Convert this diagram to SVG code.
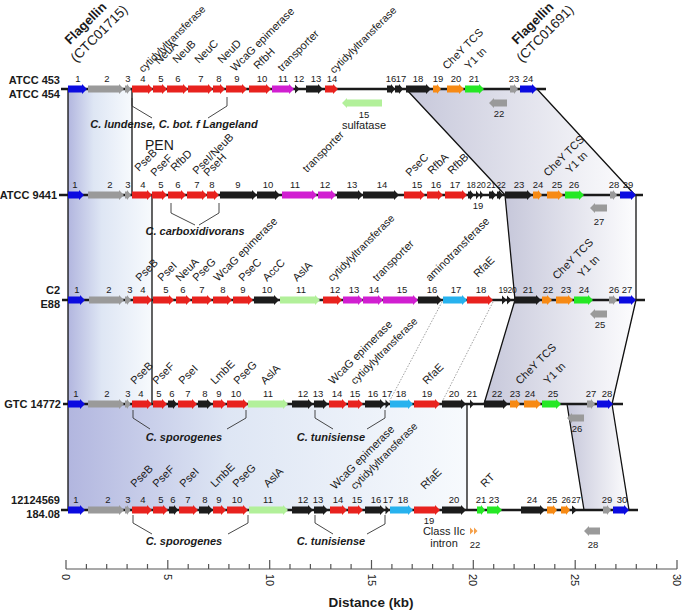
<svg xmlns="http://www.w3.org/2000/svg" width="683" height="611" viewBox="0 0 683 611">
<defs>
<style>
.B{fill:#0b0be0}.G{fill:#9a9a9a}.R{fill:#e8221e}.K{fill:#1c1c1c}.M{fill:#d11fd1}.O{fill:#f78a14}.GR{fill:#25e825}.LG{fill:#b2f09a}.C{fill:#27b2ee}.OC{fill:#f5a04a}
text{font-family:"Liberation Sans",Arial,sans-serif;fill:#1a1a1a}
.n{font-size:9.5px;text-anchor:middle}
.n2{font-size:8.5px;text-anchor:middle;letter-spacing:-0.3px}
.l{font-size:11px}
.l .cy{font-size:10.5px}
.f{font-size:13px;font-weight:bold}
.c{font-size:13.5px}
.s{font-size:11px;text-anchor:middle}
.sp{font-size:11px;font-weight:bold;font-style:italic;text-anchor:middle}
.rl{font-size:11px;font-weight:bold;text-anchor:end}
.bb{stroke:#1a1a1a;stroke-width:2.5}
.bd{stroke:#111;stroke-width:1.3;fill:none}
.br{stroke:#333;stroke-width:0.9;fill:none}
.dt{stroke:#777;stroke-width:0.7;stroke-dasharray:1.5 1.5;fill:none}
.ax{stroke:#555;stroke-width:1.2;fill:none}
</style>
<linearGradient id="gb" x1="0" y1="0" x2="1" y2="0"><stop offset="0" stop-color="#b2b6df"/><stop offset="0.4" stop-color="#dee6f4"/><stop offset="1" stop-color="#f7fafd"/></linearGradient>
<linearGradient id="gg" x1="0" y1="0" x2="1" y2="0"><stop offset="0" stop-color="#c6c7da"/><stop offset="1" stop-color="#fdfdfe"/></linearGradient>
</defs>
<rect width="683" height="611" fill="#fff"/>
<g id="bands">
<rect x="68" y="89" width="64" height="106" fill="url(#gb)"/>
<rect x="68" y="195" width="84" height="209" fill="url(#gb)"/>
<rect x="68" y="404" width="399" height="106" fill="url(#gb)"/>
<polygon points="406,89 537,89 635,195 505,195" fill="url(#gg)"/>
<polygon points="505,195 636,195 636,300 515,300" fill="url(#gg)"/>
<polygon points="515,300 636,300 612,404 484,404" fill="url(#gg)"/>
<polygon points="567,404 612,404 629,510 584,510" fill="url(#gg)"/>
</g>
<g id="connectors">
<path class="bd" d="M68,89V510M132,89V195M152,195V404M467,404V510"/>
<path class="bd" d="M406,89L505,195M537,89L635,195M505,195L515,300M636,195V300M515,300L484,404M636,300L612,404M567,404L584,510M612,404L629,510"/>
<path class="dt" d="M442,302L388,404M493,302L441,404"/>
<path class="br" d="M132,98V106L152,118M227,97V106L208,118"/>
<path class="br" d="M171,203V213L195,225M219,203V213L199,225"/>
<path class="br" d="M133,410V418L150,429M246,410V418L227,429M315,410V418L333,429M385,410V418L367,429"/>
<path class="br" d="M133,515V523L152,534M248,515V523L228,534M315,515V523L333,534M385,515V524L367,534"/>
</g>
<g id="annotations">
<text class="f" transform="translate(70,45) rotate(-45)">Flagellin</text>
<text class="c" transform="translate(76,63) rotate(-45)">(CTC01715)</text>
<text class="f" transform="translate(517,45) rotate(-45)">Flagellin</text>
<text class="c" transform="translate(522,63) rotate(-45)">(CTC01691)</text>
<text x="145" y="150" style="font-size:14px">PEN</text>
<text class="sp" x="174" y="128">C. lundense, C. bot. f Langeland</text>
<text class="sp" x="195" y="235">C. carboxidivorans</text>
<text class="sp" x="184" y="441">C. sporogenes</text>
<text class="sp" x="331" y="441">C. tunisiense</text>
<text class="sp" x="184" y="545">C. sporogenes</text>
<text class="sp" x="331" y="545">C. tunisiense</text>
<text class="rl" x="60" y="84">ATCC 453</text>
<text class="rl" x="60" y="98">ATCC 454</text>
<text class="rl" x="57" y="199">ATCC 9441</text>
<text class="rl" x="60" y="294">C2</text>
<text class="rl" x="60" y="308">E88</text>
<text class="rl" x="61" y="408">GTC 14772</text>
<text class="rl" x="60" y="504">12124569</text>
<text class="rl" x="60" y="518">184.08</text>
</g>
<g id="row1" transform="translate(0,89)">
<line class="bb" x1="61" y1="0" x2="546" y2="0"/>
<g class="l">
<text class="cy" transform="translate(143,-16) rotate(-45)">cytidylyltransferase</text>
<text transform="translate(159,-24) rotate(-45)">NeuA</text>
<text transform="translate(177,-25) rotate(-45)">NeuB</text>
<text transform="translate(199,-25) rotate(-45)">NeuC</text>
<text transform="translate(222,-25) rotate(-45)">NeuD</text>
<text transform="translate(235,-17) rotate(-45)">WcaG epimerase</text>
<text transform="translate(258,-19) rotate(-45)">RfbH</text>
<text transform="translate(282,-17) rotate(-45)">transporter</text>
<text class="cy" transform="translate(334,-15) rotate(-45)">cytidylyltransferase</text>
<text transform="translate(447,-19) rotate(-45)">CheY TCS</text>
<text transform="translate(469,-19) rotate(-45)">Y1 tn</text>
</g>
<g id="r1-g1"><path class="B" d="M68,-3.5H82V-5L87,0L82,5V3.5H68Z"/><text class="n" x="78" y="-7.5">1</text></g>
<g id="r1-g2"><path class="G" d="M88,-3.5H119V-5L124,0L119,5V3.5H88Z"/><text class="n" x="107" y="-7.5">2</text></g>
<g id="r1-g3"><path class="G" d="M125,-3.5H127V-5L131,0L127,5V3.5H125Z"/><text class="n" x="128" y="-7.5">3</text></g>
<g id="r1-g4"><path class="R" d="M132,-3.5H148V-5L153,0L148,5V3.5H132Z"/><text class="n" x="143" y="-7.5">4</text></g>
<g id="r1-g5"><path class="R" d="M153,-3.5H162V-5L167,0L162,5V3.5H153Z"/><text class="n" x="161" y="-7.5">5</text></g>
<g id="r1-g6"><path class="R" d="M167,-3.5H183V-5L188,0L183,5V3.5H167Z"/><text class="n" x="178" y="-7.5">6</text></g>
<g id="r1-g7"><path class="R" d="M188,-3.5H208V-5L213,0L208,5V3.5H188Z"/><text class="n" x="201" y="-7.5">7</text></g>
<g id="r1-g8"><path class="R" d="M213,-3.5H220V-5L225,0L220,5V3.5H213Z"/><text class="n" x="219" y="-7.5">8</text></g>
<g id="r1-g9"><path class="R" d="M226,-3.5H242V-5L247,0L242,5V3.5H226Z"/><text class="n" x="237" y="-7.5">9</text></g>
<g id="r1-g10"><path class="R" d="M249,-3.5H266V-5L271,0L266,5V3.5H249Z"/><text class="n" x="262" y="-7.5">10</text></g>
<g id="r1-g11"><path class="M" d="M272,-3.5H289V-5L294,0L289,5V3.5H272Z"/><text class="n" x="283" y="-7.5">11</text></g>
<g id="r1-g12"><path class="K" d="M295,-4.5L299.5,0L295,4.5Z"/><text class="n" x="299" y="-7.5">12</text></g>
<g id="r1-g13"><path class="K" d="M306,-3.5H318V-5L323,0L318,5V3.5H306Z"/><text class="n" x="316" y="-7.5">13</text></g>
<g id="r1-g14"><path class="R" d="M325,-3.5H333V-5L338,0L333,5V3.5H325Z"/><text class="n" x="332" y="-7.5">14</text></g>
<g id="r1-g15" transform="translate(0,14)"><path class="LG" d="M382,-3.5H347V-5L342,0L347,5V3.5H382Z"/><text class="n" x="364" y="15">15</text><text class="s" x="364" y="26">sulfatase</text></g>
<g id="r1-g16"><path class="K" d="M387,-3.5H391V-5L395,0L391,5V3.5H387Z"/><text class="n" x="391" y="-7.5">16</text></g>
<g id="r1-g17"><path class="K" d="M395,-3.5H399V-5L403,0L399,5V3.5H395Z"/><text class="n" x="401" y="-7.5">17</text></g>
<g id="r1-g18"><path class="K" d="M406,-3.5H426V-5L431,0L426,5V3.5H406Z"/><text class="n" x="418" y="-7.5">18</text></g>
<g id="r1-g19"><path class="O" d="M433,-3.5H437V-5L441,0L437,5V3.5H433Z"/><text class="n" x="438" y="-7.5">19</text></g>
<g id="r1-g20"><path class="O" d="M447,-3.5H459V-5L464,0L459,5V3.5H447Z"/><text class="n" x="456" y="-7.5">20</text></g>
<g id="r1-g21"><path class="GR" d="M465,-3.5H479V-5L484,0L479,5V3.5H465Z"/><text class="n" x="474" y="-7.5">21</text></g>
<g id="r1-g22" transform="translate(0,14)"><path class="G" d="M507,-3.5H494V-5L489,0L494,5V3.5H507Z"/><text class="n" x="499" y="14">22</text></g>
<g id="r1-g23"><path class="G" d="M510,-3.5H514V-5L518,0L514,5V3.5H510Z"/><text class="n" x="514" y="-7.5">23</text></g>
<g id="r1-g24"><path class="B" d="M520,-3.5H532V-5L537,0L532,5V3.5H520Z"/><text class="n" x="528" y="-7.5">24</text></g>
</g>
<g id="row2" transform="translate(0,195)">
<line class="bb" x1="59" y1="0" x2="643" y2="0"/>
<g class="l">
<text transform="translate(139,-23) rotate(-45)">PseB</text>
<text transform="translate(155,-18) rotate(-45)">PseF</text>
<text transform="translate(175,-23) rotate(-45)">RfbD</text>
<text transform="translate(197,-20) rotate(-45)">PseI/NeuB</text>
<text transform="translate(208,-18) rotate(-45)">PseH</text>
<text transform="translate(307,-22) rotate(-45)">transporter</text>
<text transform="translate(410,-18) rotate(-45)">PseC</text>
<text transform="translate(432,-20) rotate(-45)">RfbA</text>
<text transform="translate(452,-20) rotate(-45)">RfbB</text>
<text transform="translate(548,-18) rotate(-45)">CheY TCS</text>
<text transform="translate(570,-21) rotate(-45)">Y1 tn</text>
</g>
<g id="r2-g1"><path class="B" d="M68,-3.5H79V-5L84,0L79,5V3.5H68Z"/><text class="n" x="75" y="-7.5">1</text></g>
<g id="r2-g2"><path class="G" d="M88,-3.5H119V-5L124,0L119,5V3.5H88Z"/><text class="n" x="110" y="-7.5">2</text></g>
<g id="r2-g3"><path class="G" d="M125,-3.5H127V-5L131,0L127,5V3.5H125Z"/><text class="n" x="128" y="-7.5">3</text></g>
<g id="r2-g4"><path class="R" d="M132,-3.5H147V-5L152,0L147,5V3.5H132Z"/><text class="n" x="143" y="-7.5">4</text></g>
<g id="r2-g5"><path class="R" d="M152,-3.5H162V-5L167,0L162,5V3.5H152Z"/><text class="n" x="161" y="-7.5">5</text></g>
<g id="r2-g6"><path class="R" d="M168,-3.5H181V-5L186,0L181,5V3.5H168Z"/><text class="n" x="178" y="-7.5">6</text></g>
<g id="r2-g7"><path class="R" d="M187,-3.5H202V-5L207,0L202,5V3.5H187Z"/><text class="n" x="197" y="-7.5">7</text></g>
<g id="r2-g8"><path class="R" d="M207,-3.5H214V-5L219,0L214,5V3.5H207Z"/><text class="n" x="212" y="-7.5">8</text></g>
<g id="r2-g9"><path class="K" d="M220,-3.5H252V-5L257,0L252,5V3.5H220Z"/><text class="n" x="238" y="-7.5">9</text></g>
<g id="r2-g10"><path class="K" d="M257,-3.5H275V-5L280,0L275,5V3.5H257Z"/><text class="n" x="268" y="-7.5">10</text></g>
<g id="r2-g11"><path class="M" d="M282,-3.5H312V-5L317,0L312,5V3.5H282Z"/><text class="n" x="295" y="-7.5">11</text></g>
<g id="r2-g12"><path class="M" d="M318,-3.5H331V-5L336,0L331,5V3.5H318Z"/><text class="n" x="325" y="-7.5">12</text></g>
<g id="r2-g13"><path class="K" d="M337,-3.5H358V-5L363,0L358,5V3.5H337Z"/><text class="n" x="352" y="-7.5">13</text></g>
<g id="r2-g14"><path class="K" d="M363,-3.5H394V-5L399,0L394,5V3.5H363Z"/><text class="n" x="382" y="-7.5">14</text></g>
<g id="r2-g15"><path class="R" d="M404,-3.5H420V-5L425,0L420,5V3.5H404Z"/><text class="n" x="417" y="-7.5">15</text></g>
<g id="r2-g16"><path class="R" d="M427,-3.5H438V-5L443,0L438,5V3.5H427Z"/><text class="n" x="436" y="-7.5">16</text></g>
<g id="r2-g17"><path class="R" d="M445,-3.5H462V-5L467,0L462,5V3.5H445Z"/><text class="n" x="455" y="-7.5">17</text></g>
<g id="r2-g18"><path class="K" d="M468,-3.5H470V-5L474,0L470,5V3.5H468Z"/><text class="n2" x="471" y="-7.5">18</text></g>
<g id="r2-g19"><path class="K" d="M476,-4.5L479.5,0L476,4.5Z"/><text class="n" x="478" y="14">19</text></g>
<g id="r2-g20"><path class="K" d="M480,-4.5L483.5,0L480,4.5Z"/><text class="n2" x="481" y="-7.5">20</text></g>
<g id="r2-g21"><path class="K" d="M489,-3.5H492V-5L496,0L492,5V3.5H489Z"/><text class="n2" x="491" y="-7.5">21</text></g>
<g id="r2-g22"><path class="K" d="M497,-3.5H499V-5L503,0L499,5V3.5H497Z"/><text class="n2" x="501" y="-7.5">22</text></g>
<g id="r2-g23"><path class="K" d="M505,-3.5H527V-5L532,0L527,5V3.5H505Z"/><text class="n" x="519" y="-7.5">23</text></g>
<g id="r2-g24"><path class="O" d="M533,-3.5H538V-5L542,0L538,5V3.5H533Z"/><text class="n" x="538" y="-7.5">24</text></g>
<g id="r2-g25"><path class="O" d="M547,-3.5H558V-5L563,0L558,5V3.5H547Z"/><text class="n" x="557" y="-7.5">25</text></g>
<g id="r2-g26"><path class="GR" d="M565,-3.5H579V-5L584,0L579,5V3.5H565Z"/><text class="n" x="574" y="-7.5">26</text></g>
<g id="r2-g27" transform="translate(0,13)"><path class="G" d="M607,-3.5H595V-5L590,0L595,5V3.5H607Z"/><text class="n" x="599" y="17">27</text></g>
<g id="r2-g28"><path class="G" d="M610,-3.5H613V-5L617,0L613,5V3.5H610Z"/><text class="n" x="614" y="-7.5">28</text></g>
<g id="r2-g29"><path class="B" d="M620,-3.5H631V-5L636,0L631,5V3.5H620Z"/><text class="n" x="628" y="-7.5">29</text></g>
</g>
<g id="row3" transform="translate(0,300)">
<line class="bb" x1="62" y1="0" x2="645" y2="0"/>
<g class="l">
<text transform="translate(140,-18) rotate(-45)">PseB</text>
<text transform="translate(162,-18) rotate(-45)">PseI</text>
<text transform="translate(180,-18) rotate(-45)">NeuA</text>
<text transform="translate(197,-18) rotate(-45)">PseG</text>
<text transform="translate(218,-18) rotate(-45)">WcaG epimerase</text>
<text transform="translate(243,-18) rotate(-45)">PseC</text>
<text transform="translate(267,-18) rotate(-45)">AccC</text>
<text transform="translate(297,-18) rotate(-45)">AslA</text>
<text class="cy" transform="translate(332,-18) rotate(-45)">cytidylyltransferase</text>
<text transform="translate(377,-18) rotate(-45)">transporter</text>
<text transform="translate(430,-18) rotate(-45)">aminotransferase</text>
<text transform="translate(478,-22) rotate(-45)">RfaE</text>
<text transform="translate(557,-20) rotate(-45)">CheY TCS</text>
<text transform="translate(582,-22) rotate(-45)">Y1 tn</text>
</g>
<g id="r3-g1"><path class="B" d="M68,-3.5H80V-5L85,0L80,5V3.5H68Z"/><text class="n" x="77" y="-7.5">1</text></g>
<g id="r3-g2"><path class="G" d="M89,-3.5H119V-5L124,0L119,5V3.5H89Z"/><text class="n" x="109" y="-7.5">2</text></g>
<g id="r3-g3"><path class="G" d="M125,-3.5H127V-5L131,0L127,5V3.5H125Z"/><text class="n" x="130" y="-7.5">3</text></g>
<g id="r3-g4"><path class="R" d="M133,-3.5H147V-5L152,0L147,5V3.5H133Z"/><text class="n" x="143" y="-7.5">4</text></g>
<g id="r3-g5"><path class="R" d="M153,-3.5H169V-5L174,0L169,5V3.5H153Z"/><text class="n" x="166" y="-7.5">5</text></g>
<g id="r3-g6"><path class="R" d="M176,-3.5H186V-5L191,0L186,5V3.5H176Z"/><text class="n" x="183" y="-7.5">6</text></g>
<g id="r3-g7"><path class="R" d="M192,-3.5H207V-5L212,0L207,5V3.5H192Z"/><text class="n" x="202" y="-7.5">7</text></g>
<g id="r3-g8"><path class="R" d="M213,-3.5H227V-5L232,0L227,5V3.5H213Z"/><text class="n" x="223" y="-7.5">8</text></g>
<g id="r3-g9"><path class="R" d="M233,-3.5H248V-5L253,0L248,5V3.5H233Z"/><text class="n" x="243" y="-7.5">9</text></g>
<g id="r3-g10"><path class="K" d="M254,-3.5H274V-5L279,0L274,5V3.5H254Z"/><text class="n" x="267" y="-7.5">10</text></g>
<g id="r3-g11"><path class="LG" d="M280,-3.5H315V-5L320,0L315,5V3.5H280Z"/><text class="n" x="301" y="-7.5">11</text></g>
<g id="r3-g12"><path class="R" d="M323,-3.5H337V-5L342,0L337,5V3.5H323Z"/><text class="n" x="335" y="-7.5">12</text></g>
<g id="r3-g13"><path class="M" d="M343,-3.5H358V-5L363,0L358,5V3.5H343Z"/><text class="n" x="354" y="-7.5">13</text></g>
<g id="r3-g14"><path class="M" d="M363,-3.5H378V-5L383,0L378,5V3.5H363Z"/><text class="n" x="374" y="-7.5">14</text></g>
<g id="r3-g15"><path class="M" d="M383,-3.5H413V-5L418,0L413,5V3.5H383Z"/><text class="n" x="402" y="-7.5">15</text></g>
<g id="r3-g16"><path class="K" d="M418,-3.5H437V-5L442,0L437,5V3.5H418Z"/><text class="n" x="432" y="-7.5">16</text></g>
<g id="r3-g17"><path class="C" d="M443,-3.5H462V-5L467,0L462,5V3.5H443Z"/><text class="n" x="456" y="-7.5">17</text></g>
<g id="r3-g18"><path class="R" d="M467,-3.5H488V-5L493,0L488,5V3.5H467Z"/><text class="n" x="481" y="-7.5">18</text></g>
<g id="r3-g19"><path class="K" d="M502,-4.5L506.5,0L502,4.5Z"/><text class="n2" x="503" y="-7.5">19</text></g>
<g id="r3-g20"><path class="K" d="M507,-4.5L511.5,0L507,4.5Z"/><text class="n2" x="512" y="-7.5">20</text></g>
<g id="r3-g21"><path class="K" d="M514,-3.5H536V-5L541,0L536,5V3.5H514Z"/><text class="n" x="528" y="-7.5">21</text></g>
<g id="r3-g22"><path class="O" d="M542,-3.5H547V-5L552,0L547,5V3.5H542Z"/><text class="n" x="548" y="-7.5">22</text></g>
<g id="r3-g23"><path class="O" d="M556,-3.5H568V-5L573,0L568,5V3.5H556Z"/><text class="n" x="566" y="-7.5">23</text></g>
<g id="r3-g24"><path class="GR" d="M574,-3.5H588V-5L593,0L588,5V3.5H574Z"/><text class="n" x="584" y="-7.5">24</text></g>
<g id="r3-g25" transform="translate(0,14)"><path class="G" d="M607,-3.5H595V-5L590,0L595,5V3.5H607Z"/><text class="n" x="600" y="14">25</text></g>
<g id="r3-g26"><path class="G" d="M609,-3.5H613V-5L617,0L613,5V3.5H609Z"/><text class="n" x="614" y="-7.5">26</text></g>
<g id="r3-g27"><path class="B" d="M619,-3.5H631V-5L636,0L631,5V3.5H619Z"/><text class="n" x="627" y="-7.5">27</text></g>
</g>
<g id="row4" transform="translate(0,404)">
<line class="bb" x1="63" y1="0" x2="623" y2="0"/>
<g class="l">
<text transform="translate(135,-19) rotate(-45)">PseB</text>
<text transform="translate(157,-19) rotate(-45)">PseF</text>
<text transform="translate(183,-19) rotate(-45)">PseI</text>
<text transform="translate(215,-19) rotate(-45)">LmbE</text>
<text transform="translate(238,-19) rotate(-45)">PseG</text>
<text transform="translate(265,-19) rotate(-45)">AslA</text>
<text transform="translate(333,-19) rotate(-45)">WcaG epimerase</text>
<text class="cy" transform="translate(355,-19) rotate(-45)">cytidylyltransferase</text>
<text transform="translate(427,-19) rotate(-45)">RfaE</text>
<text transform="translate(520,-19) rotate(-45)">CheY TCS</text>
<text transform="translate(548,-19) rotate(-45)">Y1 tn</text>
</g>
<g id="r4-g1"><path class="B" d="M68,-3.5H80V-5L85,0L80,5V3.5H68Z"/><text class="n" x="76" y="-7.5">1</text></g>
<g id="r4-g2"><path class="G" d="M88,-3.5H119V-5L124,0L119,5V3.5H88Z"/><text class="n" x="107" y="-7.5">2</text></g>
<g id="r4-g3"><path class="G" d="M125,-3.5H127V-5L130.5,0L127,5V3.5H125Z"/><text class="n" x="128" y="-7.5">3</text></g>
<g id="r4-g4"><path class="R" d="M132,-3.5H147V-5L152,0L147,5V3.5H132Z"/><text class="n" x="141" y="-7.5">4</text></g>
<g id="r4-g5"><path class="R" d="M153,-3.5H162V-5L167,0L162,5V3.5H153Z"/><text class="n" x="159" y="-7.5">5</text></g>
<g id="r4-g6"><path class="K" d="M168,-3.5H173V-5L177,0L173,5V3.5H168Z"/><text class="n" x="172" y="-7.5">6</text></g>
<g id="r4-g7"><path class="R" d="M178,-3.5H192V-5L197,0L192,5V3.5H178Z"/><text class="n" x="188" y="-7.5">7</text></g>
<g id="r4-g8"><path class="K" d="M198,-3.5H207V-5L212,0L207,5V3.5H198Z"/><text class="n" x="205" y="-7.5">8</text></g>
<g id="r4-g9"><path class="R" d="M213,-3.5H221V-5L226,0L221,5V3.5H213Z"/><text class="n" x="219" y="-7.5">9</text></g>
<g id="r4-g10"><path class="R" d="M227,-3.5H243V-5L248,0L243,5V3.5H227Z"/><text class="n" x="236" y="-7.5">10</text></g>
<g id="r4-g11"><path class="LG" d="M248,-3.5H283V-5L288,0L283,5V3.5H248Z"/><text class="n" x="268" y="-7.5">11</text></g>
<g id="r4-g12"><path class="K" d="M292,-3.5H308V-5L313,0L308,5V3.5H292Z"/><text class="n" x="303" y="-7.5">12</text></g>
<g id="r4-g13"><path class="K" d="M314,-3.5H323V-5L328,0L323,5V3.5H314Z"/><text class="n" x="318" y="-7.5">13</text></g>
<g id="r4-g14"><path class="R" d="M329,-3.5H342V-5L347,0L342,5V3.5H329Z"/><text class="n" x="337" y="-7.5">14</text></g>
<g id="r4-g15"><path class="R" d="M348,-3.5H358V-5L363,0L358,5V3.5H348Z"/><text class="n" x="355" y="-7.5">15</text></g>
<g id="r4-g16"><path class="K" d="M365,-3.5H380V-5L385,0L380,5V3.5H365Z"/><text class="n" x="373" y="-7.5">16</text></g>
<g id="r4-g17"><path class="K" d="M385.5,-4.5L389.5,0L385.5,4.5Z"/><text class="n" x="387" y="-7.5">17</text></g>
<g id="r4-g18"><path class="C" d="M390,-3.5H408V-5L413,0L408,5V3.5H390Z"/><text class="n" x="401" y="-7.5">18</text></g>
<g id="r4-g19"><path class="R" d="M414,-3.5H435V-5L440,0L435,5V3.5H414Z"/><text class="n" x="427" y="-7.5">19</text></g>
<g id="r4-g20"><path class="K" d="M442,-3.5H461V-5L466,0L461,5V3.5H442Z"/><text class="n" x="454" y="-7.5">20</text></g>
<g id="r4-g21"><path class="K" d="M470,-4.5L474,0L470,4.5Z"/><text class="n" x="472" y="-7.5">21</text></g>
<g id="r4-g22"><path class="K" d="M484,-3.5H503V-5L508,0L503,5V3.5H484Z"/><text class="n" x="497" y="-7.5">22</text></g>
<g id="r4-g23"><path class="O" d="M510,-3.5H516V-5L520,0L516,5V3.5H510Z"/><text class="n" x="515" y="-7.5">23</text></g>
<g id="r4-g24"><path class="O" d="M524,-3.5H536V-5L541,0L536,5V3.5H524Z"/><text class="n" x="530" y="-7.5">24</text></g>
<g id="r4-g25"><path class="GR" d="M542,-3.5H556V-5L561,0L556,5V3.5H542Z"/><text class="n" x="553" y="-7.5">25</text></g>
<g id="r4-g26" transform="translate(0,14)"><path class="G" d="M584,-3.5H572V-5L567,0L572,5V3.5H584Z"/><text class="n" x="577" y="14">26</text></g>
<g id="r4-g27"><path class="G" d="M587,-3.5H591V-5L595,0L591,5V3.5H587Z"/><text class="n" x="591" y="-7.5">27</text></g>
<g id="r4-g28"><path class="B" d="M597,-3.5H608V-5L613,0L608,5V3.5H597Z"/><text class="n" x="607" y="-7.5">28</text></g>
</g>
<g id="row5" transform="translate(0,510)">
<line class="bb" x1="61" y1="0" x2="638" y2="0"/>
<g class="l">
<text transform="translate(135,-22) rotate(-45)">PseB</text>
<text transform="translate(157,-22) rotate(-45)">PseF</text>
<text transform="translate(184,-22) rotate(-45)">PseI</text>
<text transform="translate(215,-22) rotate(-45)">LmbE</text>
<text transform="translate(237,-22) rotate(-45)">PseG</text>
<text transform="translate(268,-22) rotate(-45)">AslA</text>
<text transform="translate(335,-20) rotate(-45)">WcaG epimerase</text>
<text class="cy" transform="translate(355,-20) rotate(-45)">cytidylyltransferase</text>
<text transform="translate(425,-20) rotate(-45)">RfaE</text>
<text transform="translate(485,-22) rotate(-45)">RT</text>
</g>
<g id="r5-g1"><path class="B" d="M68,-3.5H80V-5L85,0L80,5V3.5H68Z"/><text class="n" x="76" y="-7.5">1</text></g>
<g id="r5-g2"><path class="G" d="M88,-3.5H119V-5L124,0L119,5V3.5H88Z"/><text class="n" x="108" y="-7.5">2</text></g>
<g id="r5-g3"><path class="G" d="M125,-3.5H127V-5L130.5,0L127,5V3.5H125Z"/><text class="n" x="128" y="-7.5">3</text></g>
<g id="r5-g4"><path class="R" d="M132,-3.5H147V-5L152,0L147,5V3.5H132Z"/><text class="n" x="143" y="-7.5">4</text></g>
<g id="r5-g5"><path class="R" d="M153,-3.5H163V-5L168,0L163,5V3.5H153Z"/><text class="n" x="161" y="-7.5">5</text></g>
<g id="r5-g6"><path class="K" d="M169,-3.5H174V-5L178,0L174,5V3.5H169Z"/><text class="n" x="173" y="-7.5">6</text></g>
<g id="r5-g7"><path class="R" d="M179,-3.5H193V-5L198,0L193,5V3.5H179Z"/><text class="n" x="188" y="-7.5">7</text></g>
<g id="r5-g8"><path class="K" d="M199,-3.5H208V-5L213,0L208,5V3.5H199Z"/><text class="n" x="205" y="-7.5">8</text></g>
<g id="r5-g9"><path class="R" d="M213,-3.5H221V-5L226,0L221,5V3.5H213Z"/><text class="n" x="219" y="-7.5">9</text></g>
<g id="r5-g10"><path class="R" d="M227,-3.5H243V-5L248,0L243,5V3.5H227Z"/><text class="n" x="237" y="-7.5">10</text></g>
<g id="r5-g11"><path class="LG" d="M249,-3.5H283V-5L288,0L283,5V3.5H249Z"/><text class="n" x="268" y="-7.5">11</text></g>
<g id="r5-g12"><path class="K" d="M292,-3.5H308V-5L313,0L308,5V3.5H292Z"/><text class="n" x="303" y="-7.5">12</text></g>
<g id="r5-g13"><path class="K" d="M314,-3.5H323V-5L328,0L323,5V3.5H314Z"/><text class="n" x="318" y="-7.5">13</text></g>
<g id="r5-g14"><path class="R" d="M330,-3.5H342V-5L347,0L342,5V3.5H330Z"/><text class="n" x="338" y="-7.5">14</text></g>
<g id="r5-g15"><path class="R" d="M348,-3.5H358V-5L363,0L358,5V3.5H348Z"/><text class="n" x="357" y="-7.5">15</text></g>
<g id="r5-g16"><path class="K" d="M365,-3.5H380V-5L385,0L380,5V3.5H365Z"/><text class="n" x="376" y="-7.5">16</text></g>
<g id="r5-g17"><path class="K" d="M385.5,-4.5L389.5,0L385.5,4.5Z"/><text class="n" x="388" y="-7.5">17</text></g>
<g id="r5-g18"><path class="C" d="M390,-3.5H408V-5L413,0L408,5V3.5H390Z"/><text class="n" x="403" y="-7.5">18</text></g>
<g id="r5-g19"><path class="R" d="M414,-3.5H435V-5L440,0L435,5V3.5H414Z"/><text class="n" x="429" y="14">19</text></g>
<g id="r5-g20"><path class="K" d="M442,-3.5H461V-5L466,0L461,5V3.5H442Z"/><text class="n" x="454" y="-7.5">20</text></g>
<g id="r5-g21"><path class="GR" d="M477,-3.5H481V-5L485,0L481,5V3.5H477Z"/><text class="n" x="481" y="-7.5">21</text></g>
<g id="r5-g22" transform="translate(0,21)"><path class="OC" d="M470,-3.5L473.5,0L470,3.5ZM474,-3.5L477.5,0L474,3.5Z"/><text class="n" x="475" y="17">22</text><text class="s" x="444" y="4">Class IIc</text><text class="s" x="444" y="16">intron</text></g>
<g id="r5-g23"><path class="GR" d="M487,-3.5H497V-5L502,0L497,5V3.5H487Z"/><text class="n" x="494" y="-7.5">23</text></g>
<g id="r5-g24"><path class="K" d="M521,-3.5H540V-5L545,0L540,5V3.5H521Z"/><text class="n" x="532" y="-7.5">24</text></g>
<g id="r5-g25"><path class="O" d="M547,-3.5H553V-5L557,0L553,5V3.5H547Z"/><text class="n" x="552" y="-7.5">25</text></g>
<g id="r5-g26"><path class="O" d="M561,-3.5H566V-5L570,0L566,5V3.5H561Z"/><text class="n2" x="566" y="-7.5">26</text></g>
<g id="r5-g27"><path class="K" d="M572,-4.5L577,0L572,4.5Z"/><text class="n2" x="576" y="-7.5">27</text></g>
<g id="r5-g28" transform="translate(0,21)"><path class="G" d="M600,-3.5H589V-5L584,0L589,5V3.5H600Z"/><text class="n" x="593" y="17">28</text></g>
<g id="r5-g29"><path class="G" d="M603,-3.5H607V-5L611,0L607,5V3.5H603Z"/><text class="n" x="607" y="-7.5">29</text></g>
<g id="r5-g30"><path class="B" d="M613,-3.5H624V-5L629,0L624,5V3.5H613Z"/><text class="n" x="622" y="-7.5">30</text></g>
</g>
<g id="axis">
<path class="ax" d="M66,569H677M66,560V569M167.8,560V569M269.7,560V569M371.5,560V569M473.3,560V569M575.2,560V569M677,560V569M86.4,564V569M106.7,564V569M127.1,564V569M147.5,564V569M188.2,564V569M208.6,564V569M228.9,564V569M249.3,564V569M290,564V569M310.4,564V569M330.8,564V569M351.1,564V569M391.9,564V569M412.2,564V569M432.6,564V569M453,564V569M493.7,564V569M514.1,564V569M534.4,564V569M554.8,564V569M595.5,564V569M615.9,564V569M636.3,564V569M656.6,564V569"/>
<g style="font-size:11px">
<text transform="translate(66,574) rotate(90)" y="4">0</text>
<text transform="translate(167.8,574) rotate(90)" y="4">5</text>
<text transform="translate(269.7,574) rotate(90)" y="4">10</text>
<text transform="translate(371.5,574) rotate(90)" y="4">15</text>
<text transform="translate(473.3,574) rotate(90)" y="4">20</text>
<text transform="translate(575.2,574) rotate(90)" y="4">25</text>
<text transform="translate(677,574) rotate(90)" y="4">30</text>
</g>
<text x="371" y="607" style="font-size:13.5px;font-weight:bold;text-anchor:middle">Distance (kb)</text>
</g>
</svg>
